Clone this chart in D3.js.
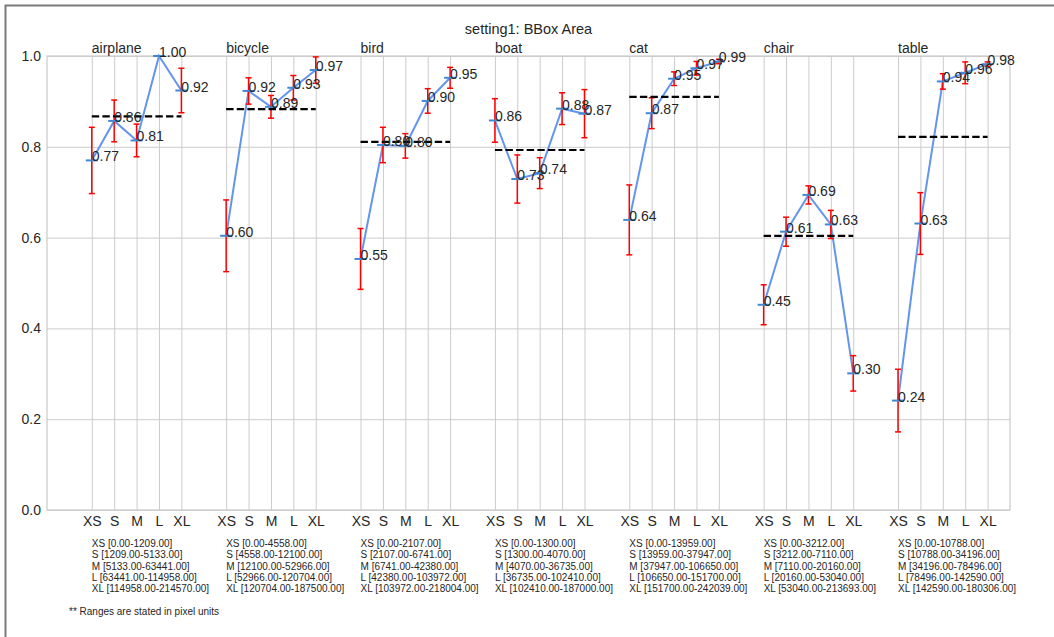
<!DOCTYPE html>
<html>
<head>
<meta charset="utf-8">
<script src="https://cdn.jsdelivr.net/npm/d3@7"></script>
<style>
  html, body { margin: 0; padding: 0; background: #ffffff; }
  svg { display: block; font-family: "Liberation Sans", Arial, sans-serif; }
</style>
</head>
<body>
<svg id="chart" width="1054" height="637"></svg>
<script>
// ---------------- data ----------------
const title = "setting1: BBox Area";
const categories = ["airplane", "bicycle", "bird", "boat", "cat", "chair", "table"];
const sizes = ["XS", "S", "M", "L", "XL"];

const airplaneVals = [0.770, 0.857, 0.814, 1.000, 0.924];
const bicycleVals  = [0.604, 0.923, 0.888, 0.930, 0.969];
const birdVals     = [0.553, 0.804, 0.802, 0.901, 0.952];
const boatVals     = [0.858, 0.729, 0.742, 0.884, 0.873];
const catVals      = [0.639, 0.874, 0.950, 0.973, 0.988];
const chairVals    = [0.452, 0.613, 0.694, 0.629, 0.301];
const tableVals    = [0.241, 0.631, 0.944, 0.963, 0.982];

const airplaneErr = [0.073, 0.046, 0.036, 0.000, 0.049];
const bicycleErr  = [0.079, 0.029, 0.025, 0.027, 0.029];
const birdErr     = [0.067, 0.039, 0.027, 0.027, 0.023];
const boatErr     = [0.048, 0.053, 0.034, 0.035, 0.053];
const catErr      = [0.077, 0.034, 0.015, 0.015, 0.005];
const chairErr    = [0.044, 0.032, 0.020, 0.031, 0.039];
const tableErr    = [0.069, 0.068, 0.017, 0.024, 0.005];

const meanVals = [0.867, 0.883, 0.811, 0.793, 0.910, 0.604, 0.822];

const airplaneBounds = [0, 1209, 5133, 63441, 114958, 214570];
const bicycleBounds  = [0, 4558, 12100, 52966, 120704, 187500];
const birdBounds     = [0, 2107, 6741, 42380, 103972, 218004];
const boatBounds     = [0, 1300, 4070, 36735, 102410, 187000];
const catBounds      = [0, 13959, 37947, 106650, 151700, 242039];
const chairBounds    = [0, 3212, 7110, 20160, 53040, 213693];
const tableBounds    = [0, 10788, 34196, 78496, 142590, 180306];

const yTicks = [0.0, 0.2, 0.4, 0.6, 0.8, 1.0];
const footnote = "** Ranges are stated in pixel units";

const allVals = [airplaneVals, bicycleVals, birdVals, boatVals, catVals, chairVals, tableVals];
const allErr = [airplaneErr, bicycleErr, birdErr, boatErr, catErr, chairErr, tableErr];
const allBounds = [airplaneBounds, bicycleBounds, birdBounds, boatBounds, catBounds, chairBounds, tableBounds];

// ---------------- layout ----------------
const svg = d3.select("#chart");
const L = 47, R = 1010, T = 56, B = 510;
const textColor = "#262626";
const gridColor = "#cccccc";

svg.append("rect").attr("width", 1054).attr("height", 637).attr("fill", "#ffffff");

// outer frame (left and top)
svg.append("path")
  .attr("d", "M5.5,637 L5.5,5.5 L1054,5.5")
  .attr("fill", "none").attr("stroke", "#7a7a7a").attr("stroke-width", 2);

const x = d3.scaleLinear().domain([-2, 41]).range([L, R]);
const y = d3.scaleLinear().domain([0, 1]).range([B, T]);
const pos = (c, k) => x(c * 6 + k);

const tickPositions = [];
const tickNames = [];
categories.forEach((c, ci) => sizes.forEach((s, k) => { tickPositions.push(ci * 6 + k); tickNames.push(s); }));

// y axis with grid
const yAxis = svg.append("g").attr("transform", `translate(${L},0)`)
  .call(d3.axisLeft(y).tickValues(yTicks).tickFormat(d3.format(".1f")).tickSize(-(R - L)).tickPadding(6));
yAxis.select(".domain").remove();
yAxis.selectAll(".tick line").attr("stroke", gridColor).attr("stroke-width", 1);
yAxis.selectAll(".tick text").attr("fill", textColor).attr("font-size", 14)
  .attr("font-family", "Liberation Sans, Arial, sans-serif");

// x axis with grid
const xAxis = svg.append("g").attr("transform", `translate(0,${B})`)
  .call(d3.axisBottom(x).tickValues(tickPositions).tickFormat((d, i) => tickNames[i]).tickSize(-(B - T)).tickPadding(6));
xAxis.select(".domain").remove();
xAxis.selectAll(".tick line").attr("stroke", gridColor).attr("stroke-width", 1);
xAxis.selectAll(".tick text").attr("fill", textColor).attr("font-size", 14)
  .attr("font-family", "Liberation Sans, Arial, sans-serif");

// spines
svg.append("rect").attr("x", L).attr("y", T).attr("width", R - L).attr("height", B - T)
  .attr("fill", "none").attr("stroke", gridColor).attr("stroke-width", 1.25);

// title
svg.append("text").attr("x", (L + R) / 2).attr("y", 34).attr("text-anchor", "middle")
  .attr("font-size", 14.5).attr("fill", textColor).text(title);

const plot = svg.append("g");

categories.forEach((cat, ci) => {
  const vals = allVals[ci];
  const errs = allErr[ci];
  const pts = vals.map((v, k) => ({ x: pos(ci, k), y: y(v), v: v, e: errs[k], k: k }));

  // category label
  svg.append("text").attr("x", pos(ci, 0)).attr("y", 52.5)
    .attr("font-size", 14).attr("fill", textColor).text(cat);

  // line
  plot.append("path").datum(pts)
    .attr("d", d3.line().x(d => d.x).y(d => d.y))
    .attr("fill", "none").attr("stroke", "#6495ED").attr("stroke-width", 2);

  // error bars
  const eb = plot.append("g").attr("stroke", "#ff0000").attr("stroke-width", 1.5);
  pts.filter(d => d.e > 0).forEach(d => {
    const top = y(d.v + d.e), bot = y(d.v - d.e);
    eb.append("line").attr("x1", d.x).attr("x2", d.x).attr("y1", top).attr("y2", bot);
    eb.append("line").attr("x1", d.x - 3).attr("x2", d.x + 3).attr("y1", top).attr("y2", top);
    eb.append("line").attr("x1", d.x - 3).attr("x2", d.x + 3).attr("y1", bot).attr("y2", bot);
  });

  // markers
  plot.append("g").selectAll("line").data(pts).join("line")
    .attr("x1", d => d.x - 6).attr("x2", d => d.x + 6)
    .attr("y1", d => d.y).attr("y2", d => d.y)
    .attr("stroke", "#4189d4").attr("stroke-width", 2);

  // mean dashed line
  plot.append("line")
    .attr("x1", pos(ci, 0)).attr("x2", pos(ci, 4))
    .attr("y1", y(meanVals[ci])).attr("y2", y(meanVals[ci]))
    .attr("stroke", "#000000").attr("stroke-width", 2.2).attr("stroke-dasharray", "7.4,3.2");

  // value labels
  plot.append("g").selectAll("text").data(pts).join("text")
    .attr("x", d => d.x).attr("y", d => d.y + 1)
    .attr("font-size", 14).attr("fill", textColor)
    .text(d => d3.format(".2f")(d.v));

  // range text
  const bnd = allBounds[ci];
  const rg = svg.append("g");
  sizes.forEach((s, k) => {
    rg.append("text").attr("x", pos(ci, 0)).attr("y", 547 + k * 11.25)
      .attr("font-size", 10).attr("fill", textColor)
      .text(`${s} [${bnd[k].toFixed(2)}-${bnd[k + 1].toFixed(2)}]`);
  });
});

svg.append("text").attr("x", 69).attr("y", 615).attr("font-size", 10).attr("fill", textColor).text(footnote);
</script>
</body>
</html>
